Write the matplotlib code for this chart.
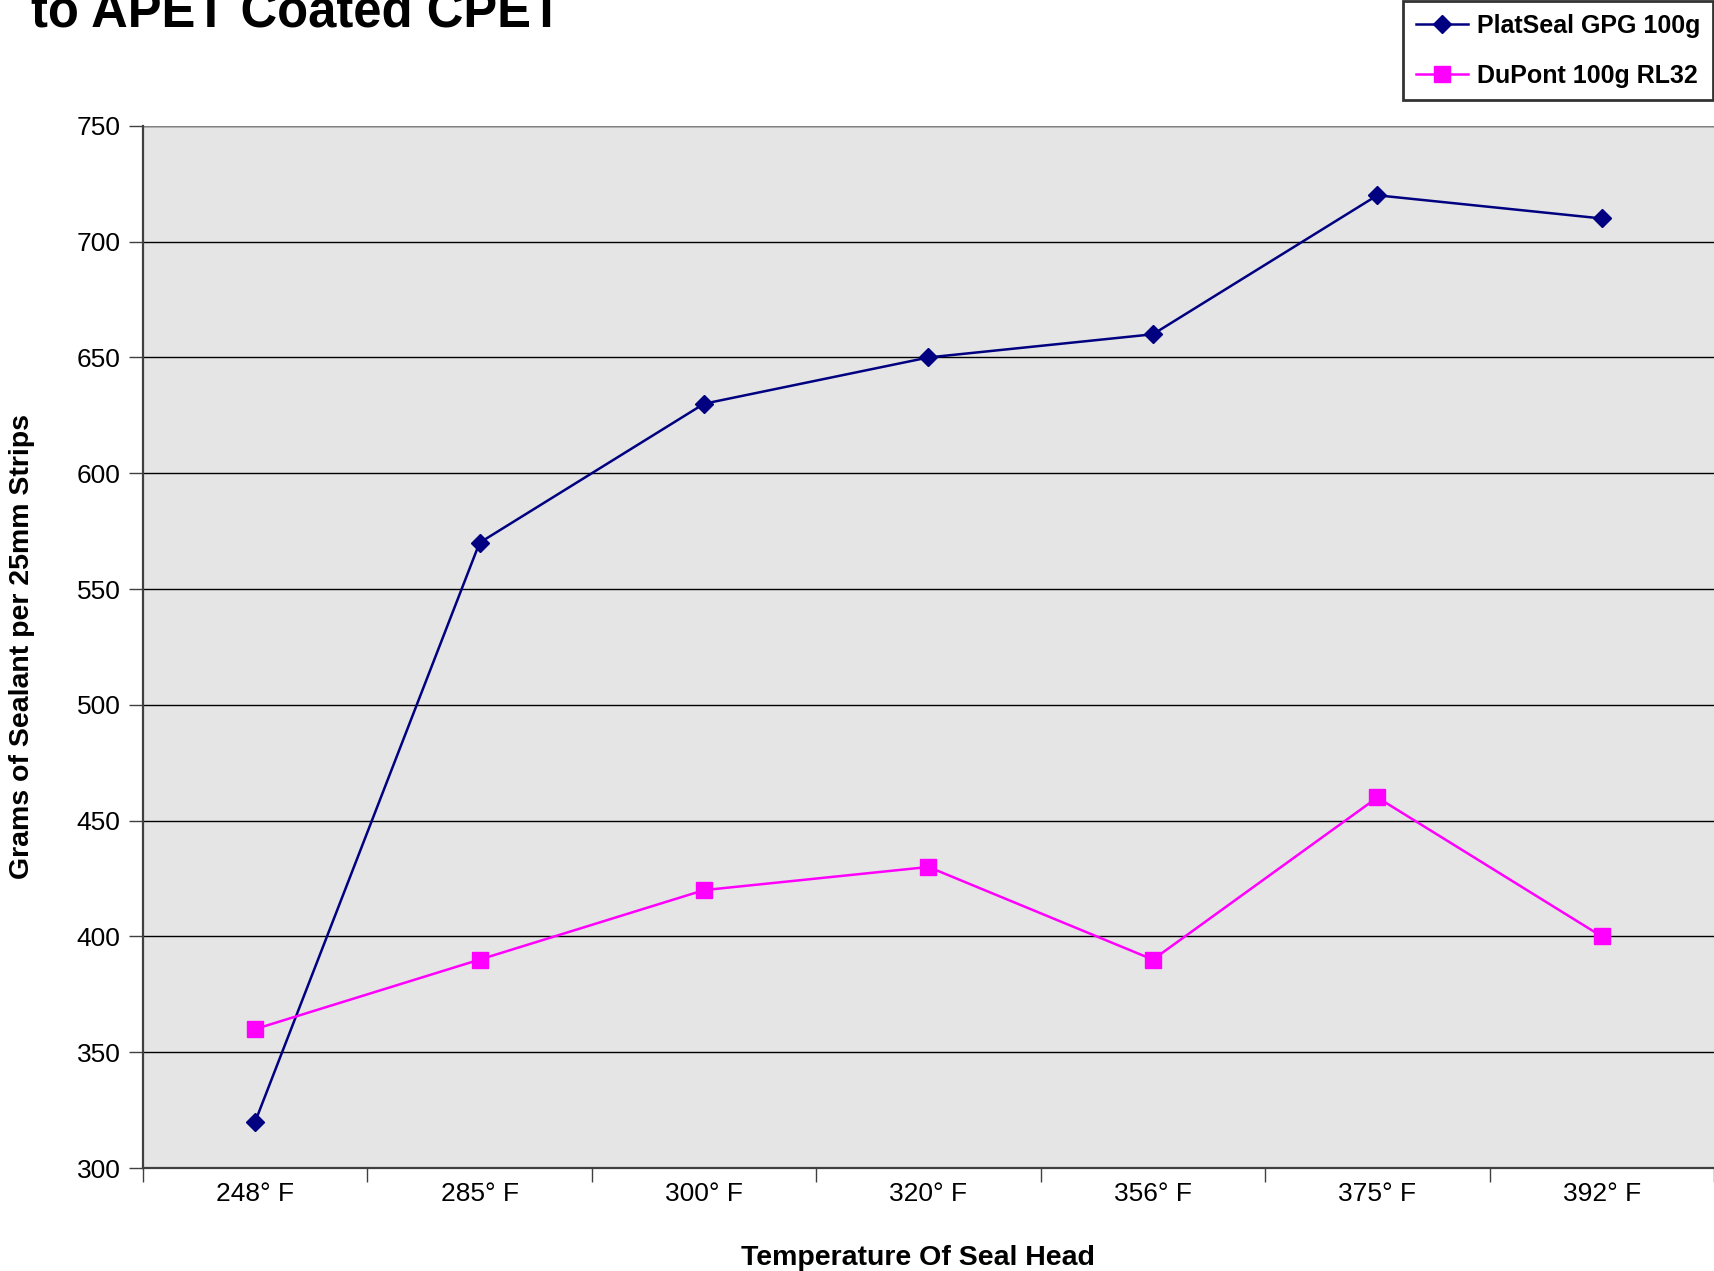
import matplotlib
matplotlib.use("Agg")
import matplotlib.pyplot as plt
from matplotlib.ticker import FixedLocator

categories = ["248° F", "285° F", "300° F", "320° F", "356° F", "375° F", "392° F"]
platseal = [320, 570, 630, 650, 660, 720, 710]
dupont = [360, 390, 420, 430, 390, 460, 400]
yticks = [300, 350, 400, 450, 500, 550, 600, 650, 700, 750]

FONT = ["Liberation Sans", "DejaVu Sans"]
plt.rcParams['font.family'] = FONT

fig = plt.figure(figsize=(17.14, 12.71), dpi=100)
ax = fig.add_axes([0.0834, 0.081, 0.9166, 0.820])
ax.set_facecolor("#E5E5E5")

x = list(range(len(categories)))
ax.plot(x, platseal, color="#000080", lw=1.8, marker="D", ms=9.5,
        mfc="#000080", mec="#000080", label="PlatSeal GPG 100g", zorder=3)
ax.plot(x, dupont, color="#FF00FF", lw=1.8, marker="s", ms=11,
        mfc="#FF00FF", mec="#FF00FF", label="DuPont 100g RL32", zorder=3)

ax.set_xlim(-0.5, len(categories) - 0.5)
ax.set_ylim(300, 750)
ax.set_yticks(yticks)
ax.set_yticklabels([str(v) for v in yticks])
ax.set_xticks(x)
ax.set_xticklabels(categories)
ax.xaxis.set_minor_locator(FixedLocator([i - 0.5 for i in range(len(categories) + 1)]))
ax.tick_params(axis="x", which="major", length=0, pad=10, labelsize=19)
ax.tick_params(axis="x", which="minor", length=10, width=1, color="#404040")
ax.tick_params(axis="y", which="major", length=10, width=1, color="#404040", labelsize=19, pad=6)

ax.yaxis.grid(True, color="black", lw=1)
ax.set_axisbelow(True)
for s in ["top", "right"]:
    ax.spines[s].set_visible(False)
ax.spines["left"].set_color("#404040")
ax.spines["left"].set_linewidth(1.6)
ax.spines["bottom"].set_color("#404040")
ax.spines["bottom"].set_linewidth(1.6)
ax.axhline(750, color="#808080", lw=1.6, zorder=1)

ax.set_xlabel("Temperature Of Seal Head", fontsize=20.5, fontweight="bold", labelpad=28)
ax.xaxis.label.set_x(0.493)
ax.set_ylabel("Grams of Sealant per 25mm Strips", fontsize=20.5, fontweight="bold", labelpad=30)

fig.text(0.018, 0.9795, "to APET Coated CPET", fontsize=36.5, fontweight="bold",
         ha="left", va="baseline")

leg = fig.legend(loc="lower left", bbox_to_anchor=(0.8186, 0.921, 0.181, 0.08),
                 mode="expand", prop={"weight": "bold", "size": 18}, frameon=True,
                 fancybox=False, edgecolor="black", handlelength=2.1, handletextpad=0.35,
                 borderpad=0.5, labelspacing=1.05, borderaxespad=0)
leg.get_frame().set_linewidth(2)

fig.savefig("out.png", dpi=100)
